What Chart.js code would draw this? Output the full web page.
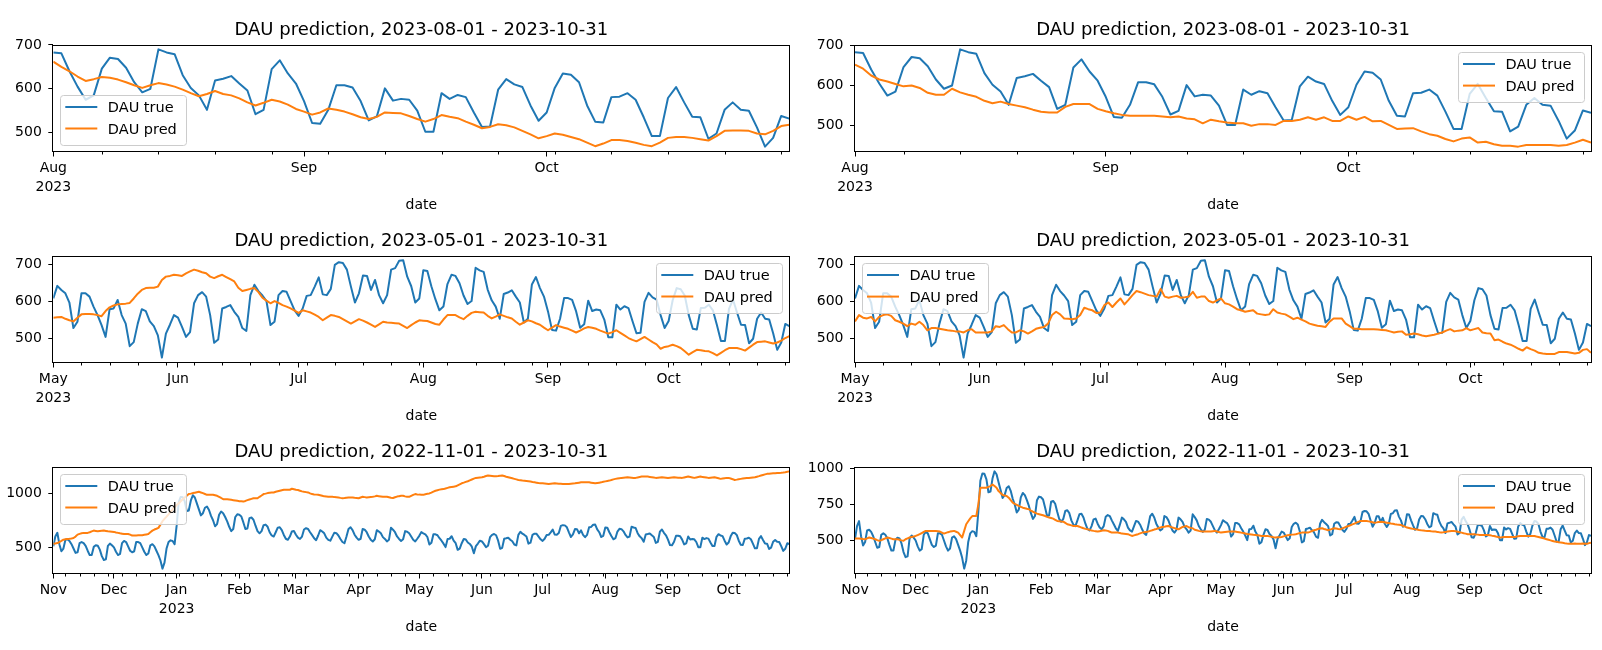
<!DOCTYPE html>
<html>
<head>
<meta charset="utf-8">
<title>DAU prediction</title>
<script src="https://cdn.jsdelivr.net/npm/chart.js@4.4.1/dist/chart.umd.min.js"></script>
<style>
  body { margin: 0; background: #fff; width: 1602px; height: 650px; position: relative; overflow: hidden; }
  canvas { position: absolute; }
</style>
</head>
<body>
<canvas id="p1" width="801" height="220" style="left:0px;top:0px"></canvas>
<canvas id="p2" width="801" height="220" style="left:801px;top:0px"></canvas>
<canvas id="p3" width="801" height="220" style="left:0px;top:211px"></canvas>
<canvas id="p4" width="801" height="220" style="left:801px;top:211px"></canvas>
<canvas id="p5" width="801" height="228" style="left:0px;top:422px"></canvas>
<canvas id="p6" width="801" height="228" style="left:801px;top:422px"></canvas>
<script>
// DAU true, daily values 2022-11-01 .. 2023-04-30
const dauTrueNovApr = [
  510, 600, 635, 530, 465, 490, 570, 575, 560, 530, 490, 450, 455, 540, 550, 540, 515, 470, 430, 430, 505, 520, 515, 480, 420, 385, 390, 515, 535, 520,
  500, 460, 430, 440, 540, 560, 550, 510, 470, 455, 465, 550, 550, 540, 500, 460, 430, 445, 520, 530, 510, 470, 430, 380, 305, 360, 490, 550, 565, 560, 530,
  700, 915, 965, 963, 925, 835, 840, 930, 980, 960, 905, 850, 795, 815, 865, 877, 845, 790, 750, 695, 715, 800, 830, 815, 780, 740, 690, 650, 670, 780, 805,
  800, 785, 730, 670, 675, 770, 775, 755, 700, 650, 630, 650, 705, 710, 690, 640, 610, 600, 640, 682, 686, 660, 615, 580, 570, 600, 647, 652,
  617, 590, 578, 600, 665, 677, 670, 640, 613, 585, 567, 610, 659, 647, 630, 590, 570, 562, 600, 636, 631, 610, 578, 550, 539, 600, 670, 686, 660, 617, 590,
  570, 580, 670, 663, 640, 601, 570, 555, 575, 659, 647, 630, 595, 578, 555, 570, 682, 663, 640, 601, 578, 560, 575, 650, 645, 630, 600, 570, 555, 580
];
// DAU true, 2023-05-01 .. 2023-07-31
const dauTrueMayJul = [
  607, 641, 630, 621, 596, 527, 544, 621, 621, 612, 585, 562, 535, 503, 578, 580, 603, 562, 539, 478, 489, 539, 578, 573, 545, 532, 507, 447, 512, 536, 562,
  555, 530, 503, 516, 594, 616, 624, 612, 562, 487, 496, 580, 584, 589, 571, 557, 527, 519, 616, 644, 627, 615, 600, 535, 544, 616, 627, 625, 600, 575,
  560, 580, 614, 616, 639, 664, 618, 616, 633, 698, 705, 703, 685, 639, 596, 621, 669, 668, 630, 657, 616, 594, 616, 685, 689, 709, 710, 666, 640, 596, 607
];
// DAU true, 2023-08-01 .. 2023-10-31
const dauTrueAugOct = [
  683, 681, 640, 605, 575, 585, 646, 671, 668, 648, 615, 592, 600, 690, 683, 679, 631, 602, 585, 552, 619, 623, 629, 612, 596, 542, 552, 645, 665, 635, 612,
  572, 522, 520, 552, 608, 608, 603, 572, 528, 537, 601, 573, 577, 575, 550, 502, 502, 590, 577, 586, 581, 546, 513, 514, 598, 622, 610, 604, 562, 527,
  546, 602, 635, 632, 615, 562, 525, 523, 581, 582, 590, 575, 535, 492, 492, 579, 604, 569, 536, 535, 486, 498, 552, 569, 552, 550, 512, 468, 488, 538, 532
];

// DAU pred, one array per panel
const predAugOctLeft = [
  662, 650, 640, 628, 618, 622, 627, 625, 621, 615, 608, 602, 608, 613, 610, 605, 598, 590, 583, 588, 595, 588, 585, 578, 569, 562, 568, 575, 571, 564, 554,
  548, 541, 546, 555, 552, 548, 542, 535, 531, 536, 546, 545, 544, 538, 531, 525, 531, 540, 536, 533, 525, 518, 510, 513, 519, 517, 512, 504, 496, 487,
  492, 498, 495, 490, 485, 477, 469, 475, 483, 483, 481, 477, 472, 469, 477, 488, 490, 490, 488, 485, 482, 492, 504, 505, 505, 504, 498, 496, 504, 515, 518
];
const predAugOctRight = [
  652, 642, 625, 615, 610, 604, 598, 600, 594, 582, 577, 577, 592, 583, 577, 572, 562, 556, 560, 554, 550, 546, 540, 535, 533, 533, 547, 554, 554, 554, 542,
  536, 531, 527, 525, 525, 525, 525, 523, 521, 523, 518, 516, 506, 515, 511, 508, 506, 506, 500, 504, 504, 502, 512, 512, 515, 521, 515, 521, 512, 512,
  523, 515, 522, 511, 512, 502, 492, 493, 494, 486, 479, 475, 467, 461, 468, 471, 458, 460, 454, 450, 450, 448, 452, 452, 452, 452, 450, 452, 458, 465, 458
];
const predMayOctLeft = [
  555, 556, 557, 552, 548, 545, 555, 564, 565, 565, 564, 562, 559, 573, 583, 588, 591, 592, 593, 595, 607, 620, 630, 635, 636, 636, 639, 657, 666, 668, 671,
  670, 668, 675, 680, 685, 682, 678, 675, 666, 662, 667, 671, 665, 659, 653, 636, 627, 630, 633, 635, 624, 609, 601, 594, 600, 595, 589, 585, 580, 574,
  568, 575, 572, 569, 563, 557, 548, 555, 562, 560, 557, 551, 545, 539, 545, 551, 547, 542, 536, 530, 537, 544, 542, 541, 540, 539, 533, 527, 535, 542, 548,
  547, 546, 542, 538, 536, 550, 562, 562, 562, 556, 551, 560, 568, 571, 570, 569, 560, 553, 558, 564, 560, 556, 553, 544, 536, 542, 548, 545, 540, 536, 528,
  521, 528, 535, 531, 528, 525, 520, 515, 520, 526, 530, 528, 525, 520, 516, 512, 516, 521, 514, 507, 500, 495, 491, 497, 503, 496, 489, 483, 471, 476,
  478, 482, 478, 473, 464, 455, 462, 468, 467, 465, 464, 459, 453, 460, 467, 473, 473, 473, 470, 466, 474, 482, 489, 490, 491, 488, 485, 488, 493, 500, 505
];
const predMayOctRight = [
  545, 562, 555, 553, 557, 545, 557, 562, 564, 560, 548, 544, 539, 532, 539, 536, 544, 535, 521, 527, 527, 525, 523, 521, 520, 518, 518, 515, 521, 524, 515,
  515, 515, 515, 518, 532, 530, 535, 524, 515, 515, 521, 518, 512, 518, 525, 528, 530, 539, 562, 571, 564, 553, 552, 551, 553, 562, 582, 578, 575, 568,
  569, 589, 596, 584, 596, 607, 591, 603, 616, 627, 624, 620, 616, 614, 612, 633, 612, 609, 612, 614, 609, 610, 612, 625, 609, 612, 612, 600, 596, 602, 607,
  594, 591, 585, 578, 575, 571, 573, 575, 566, 564, 562, 564, 578, 569, 566, 564, 558, 551, 555, 550, 545, 539, 536, 533, 532, 530, 544, 553, 553, 553, 539,
  532, 525, 525, 524, 524, 524, 524, 523, 522, 521, 518, 515, 517, 518, 509, 510, 512, 510, 507, 505, 507, 509, 512, 515, 520, 524, 518, 520, 521, 527,
  521, 524, 527, 515, 513, 512, 494, 496, 490, 485, 482, 477, 471, 466, 475, 470, 466, 460, 458, 457, 457, 457, 462, 462, 462, 460, 458, 460, 468, 470, 460
];
const predYearLeft = [
  534, 537, 540, 550, 560, 571, 575, 578, 580, 583, 587, 600, 618, 625, 630, 634, 634, 634, 640, 648, 655, 652, 649, 651, 653, 655, 652, 649, 647, 645,
  643, 638, 634, 630, 627, 624, 624, 624, 618, 609, 610, 611, 612, 612, 612, 616, 620, 624, 640, 655, 665, 672, 680, 710, 742, 763, 783, 804, 828, 851, 870,
  890, 904, 925, 944, 960, 975, 991, 995, 1000, 1004, 1008, 1012, 1006, 1000, 992, 984, 984, 984, 984, 980, 975, 965, 955, 944, 944, 944, 941, 938, 935, 932, 929,
  926, 924, 922, 928, 935, 941, 947, 953, 953, 953, 966, 978, 991, 995, 1000, 1003, 1005, 1006, 1012, 1017, 1022, 1027, 1031, 1031, 1031, 1031, 1040, 1035,
  1030, 1028, 1022, 1016, 1012, 1009, 1006, 998, 991, 988, 986, 984, 980, 975, 970, 968, 966, 966, 966, 963, 962, 960, 956, 953, 955, 958, 960, 960, 960, 957, 955,
  953, 960, 966, 963, 960, 962, 964, 966, 970, 975, 972, 969, 966, 966, 966, 962, 958, 955, 962, 968, 972, 975, 975, 970, 966, 966, 975, 984, 991, 988,
  986, 985, 984, 990, 994, 997, 1005, 1014, 1022, 1027, 1032, 1035, 1037, 1043, 1048, 1053, 1056, 1059, 1062, 1072, 1081, 1090, 1096, 1103, 1109, 1117, 1125, 1133, 1140, 1142, 1144,
  1146, 1151, 1157, 1162, 1160, 1158, 1156, 1155, 1157, 1160, 1162, 1157, 1151, 1146, 1141, 1136, 1131, 1126, 1121, 1118, 1115, 1113, 1111, 1109, 1106, 1102, 1099, 1096, 1093, 1091,
  1090, 1088, 1086, 1084, 1086, 1088, 1090, 1088, 1086, 1085, 1084, 1084, 1084, 1084, 1086, 1088, 1090, 1093, 1096, 1099, 1099, 1099, 1099, 1099, 1096, 1093, 1090, 1093, 1096, 1099, 1104,
  1108, 1112, 1115, 1120, 1126, 1131, 1134, 1137, 1140, 1142, 1144, 1146, 1144, 1142, 1140, 1140, 1144, 1148, 1152, 1152, 1152, 1152, 1149, 1146, 1143, 1140, 1142, 1144, 1146, 1144, 1142,
  1140, 1142, 1144, 1146, 1144, 1142, 1141, 1140, 1144, 1148, 1152, 1148, 1144, 1140, 1144, 1148, 1152, 1149, 1146, 1143, 1140, 1142, 1144, 1146, 1141, 1136, 1131, 1134, 1137, 1140,
  1140, 1134, 1128, 1121, 1124, 1128, 1131, 1134, 1137, 1139, 1140, 1142, 1144, 1146, 1151, 1156, 1162, 1167, 1172, 1177, 1179, 1181, 1182, 1183, 1185, 1186, 1187, 1189, 1192, 1196, 1200
];
const predYearRight = [
  514, 514, 514, 512, 510, 509, 515, 521, 517, 513, 509, 503, 498, 503, 509, 515, 521, 517, 513, 509, 509, 509, 505, 501, 498, 509, 515, 521, 525, 528,
  532, 538, 544, 552, 560, 567, 567, 567, 567, 567, 566, 564, 562, 555, 548, 553, 558, 562, 565, 567, 561, 555, 538, 521, 567, 613, 634, 654, 670, 670, 670,
  751, 866, 866, 866, 866, 872, 878, 889, 878, 866, 843, 830, 816, 812, 809, 797, 780, 763, 755, 748, 740, 734, 728, 724, 720, 717, 708, 700, 694, 687, 683,
  679, 675, 670, 664, 660, 656, 652, 644, 636, 634, 632, 631, 622, 613, 609, 605, 601, 601, 601, 596, 590, 585, 581, 578, 574, 570, 567, 565,
  562, 565, 568, 571, 569, 567, 561, 555, 555, 555, 555, 552, 548, 547, 546, 544, 538, 532, 536, 540, 544, 550, 555, 558, 560, 562, 567, 571, 576, 580, 585,
  590, 594, 596, 599, 601, 596, 590, 586, 582, 578, 586, 594, 598, 601, 592, 588, 585, 575, 571, 567, 564, 562, 562, 562, 562, 563, 565, 567, 563, 559,
  555, 557, 559, 561, 562, 562, 562, 562, 560, 558, 555, 552, 549, 546, 544, 542, 540, 539, 537, 535, 532, 532, 532, 532, 529, 526, 523, 521, 522, 523, 525,
  529, 533, 537, 539, 541, 542, 544, 548, 552, 555, 555, 555, 555, 560, 566, 571, 575, 580, 583, 585, 580, 576, 571, 576, 581, 585, 583, 580, 578, 584,
  590, 596, 601, 606, 612, 617, 624, 630, 636, 636, 636, 636, 633, 630, 627, 624, 626, 629, 631, 629, 627, 624, 621, 618, 616, 613, 611, 610, 608, 602, 596,
  590, 587, 584, 581, 578, 576, 573, 571, 570, 568, 567, 566, 564, 563, 562, 560, 557, 555, 557, 560, 562, 564, 566, 567, 564, 561, 558, 555, 551, 548, 544,
  544, 544, 544, 542, 541, 539, 539, 539, 539, 539, 537, 534, 532, 528, 525, 521, 522, 524, 525, 525, 525, 525, 525, 527, 530, 532, 532, 532, 532, 532,
  532, 532, 532, 528, 525, 521, 517, 513, 509, 505, 501, 497, 493, 491, 488, 486, 484, 481, 479, 478, 477, 478, 479, 478, 477, 478, 480, 478, 477, 482, 485
];

// x tick labels, one per month start
const monthsAugOct = [['Aug', '2023'], 'Sep', 'Oct'];
const monthsMayOct = [['May', '2023'], 'Jun', 'Jul', 'Aug', 'Sep', 'Oct'];
const monthsYear = ['Nov', 'Dec', ['Jan', '2023'], 'Feb', 'Mar', 'Apr', 'May', 'Jun', 'Jul', 'Aug', 'Sep', 'Oct'];

const endDate = '2023-10-31';
const dauTrue = dauTrueNovApr.concat(dauTrueMayJul, dauTrueAugOct);

Chart.defaults.font.family = "'DejaVu Sans', sans-serif";
Chart.defaults.color = '#000';

// axes frame + weekly minor ticks
const framePlugin = {
  id: 'frame',
  afterDatasetsDraw(chart, args, opts) {
    const { ctx, chartArea: a } = chart;
    const xs = chart.scales.x;
    ctx.save();
    ctx.strokeStyle = '#000';
    ctx.lineWidth = 1;
    ctx.strokeRect(Math.round(a.left) - 0.5, Math.round(a.top) + 0.5,
      Math.round(a.right - a.left) + 1, Math.round(a.bottom - a.top) - 1);
    opts.minor.forEach(d => {
      const px = Math.round(xs.getPixelForValue(d)) + 0.5;
      ctx.beginPath();
      ctx.moveTo(px, a.bottom);
      ctx.lineTo(px, a.bottom + 3);
      ctx.stroke();
    });
    ctx.restore();
  }
};

// matplotlib-like legend box inside the axes
const boxLegend = {
  id: 'boxLegend',
  afterDraw(chart, args, opts) {
    const { ctx, chartArea: a } = chart;
    const w = 126, h = 50, m = 7;
    const x = opts.corner.includes('left') ? a.left + m : a.right - m - w;
    const y = opts.corner.includes('upper') ? a.top + m : a.bottom - m - h;
    ctx.save();
    ctx.beginPath();
    ctx.roundRect(Math.round(x) + 0.5, Math.round(y) + 0.5, w, h, 3);
    ctx.fillStyle = 'rgba(255,255,255,0.8)';
    ctx.fill();
    ctx.strokeStyle = '#cccccc';
    ctx.lineWidth = 1;
    ctx.stroke();
    ctx.font = '14.5px "DejaVu Sans"';
    ctx.textBaseline = 'alphabetic';
    chart.data.datasets.forEach((ds, i) => {
      const cy = y + 12.5 + i * 21.6;
      ctx.strokeStyle = ds.borderColor;
      ctx.lineWidth = 2;
      ctx.beginPath();
      ctx.moveTo(x + 5, cy);
      ctx.lineTo(x + 37, cy);
      ctx.stroke();
      ctx.fillStyle = '#000';
      ctx.fillText(ds.label, x + 47.5, cy + 5.3);
    });
    ctx.restore();
  }
};

const panels = [
  { id: 'p1', start: '2023-08-01', pred: predAugOctLeft, months: monthsAugOct, step: 100, legend: 'lower left', yWidth: 53.3, padRight: 11.7 },
  { id: 'p2', start: '2023-08-01', pred: predAugOctRight, months: monthsAugOct, step: 100, legend: 'upper right', yWidth: 54, padRight: 11 },
  { id: 'p3', start: '2023-05-01', pred: predMayOctLeft, months: monthsMayOct, step: 100, legend: 'upper right', yWidth: 53.3, padRight: 11.7 },
  { id: 'p4', start: '2023-05-01', pred: predMayOctRight, months: monthsMayOct, step: 100, legend: 'upper left', yWidth: 54, padRight: 11 },
  { id: 'p5', start: '2022-11-01', pred: predYearLeft, months: monthsYear, step: 500, legend: 'upper left', yWidth: 53.3, padRight: 11.7 },
  { id: 'p6', start: '2022-11-01', pred: predYearRight, months: monthsYear, step: 250, legend: 'upper right', yWidth: 54, padRight: 11 }
];

function drawPanel(p) {
  const t0 = Date.parse(p.start + 'T00:00:00Z');
  const n = Math.round((Date.parse(endDate + 'T00:00:00Z') - t0) / 864e5) + 1;
  const trueVals = dauTrue.slice(dauTrue.length - n);

  // month starts are labelled, Mondays get a small tick
  const major = [], minor = [];
  for (let i = 0; i < n; i++) {
    const d = new Date(t0 + i * 864e5);
    if (d.getUTCDate() === 1) major.push(i);
    else if (d.getUTCDay() === 1) minor.push(i);
  }

  const all = trueVals.concat(p.pred);
  const lo = Math.min(...all), hi = Math.max(...all);
  const margin = (hi - lo) * 0.05;
  const canvas = document.getElementById(p.id);

  new Chart(canvas, {
    type: 'line',
    data: {
      datasets: [
        { label: 'DAU true', data: trueVals.map((v, i) => ({ x: i, y: v })), borderColor: '#1f77b4', order: 1 },
        { label: 'DAU pred', data: p.pred.map((v, i) => ({ x: i, y: v })), borderColor: '#ff7f0e', order: 0 }
      ]
    },
    options: {
      responsive: false,
      animation: false,
      events: [],
      elements: {
        line: { borderWidth: 2, tension: 0, fill: false, borderJoinStyle: 'round' },
        point: { radius: 0 }
      },
      layout: { padding: { left: 0, top: 0, right: p.padRight, bottom: canvas.height - 214.1 } },
      plugins: {
        legend: { display: false },
        tooltip: { enabled: false },
        title: {
          display: true,
          fullSize: false,
          text: 'DAU prediction, ' + p.start + ' - ' + endDate,
          font: { size: 18, weight: 'normal', lineHeight: 1.2 },
          padding: { top: 19.5, bottom: 3.4 }
        },
        frame: { minor: minor },
        boxLegend: { corner: p.legend }
      },
      scales: {
        x: {
          type: 'linear',
          min: 0,
          max: n - 1,
          afterBuildTicks: s => { s.ticks = major.map(v => ({ value: v })); },
          afterFit: s => { s.height = 62.6; },
          ticks: {
            autoSkip: false,
            maxRotation: 0,
            padding: 2.7,
            font: { size: 14, lineHeight: 1.33 },
            callback: v => p.months[major.indexOf(v)]
          },
          grid: { drawOnChartArea: false, tickLength: 5, color: '#000' },
          border: { display: false },
          title: { display: true, text: 'date', font: { size: 14, lineHeight: 1.2 }, padding: 0 }
        },
        y: {
          min: lo - margin,
          max: hi + margin,
          afterBuildTicks: s => {
            const ticks = [];
            for (let v = Math.ceil(s.min / p.step) * p.step; v <= s.max; v += p.step) ticks.push({ value: v });
            s.ticks = ticks;
          },
          afterFit: s => { s.width = p.yWidth; },
          ticks: { padding: 6.5, font: { size: 14 }, callback: v => String(v) },
          grid: { drawOnChartArea: false, tickLength: 5, color: '#000' },
          border: { display: false }
        }
      }
    },
    plugins: [framePlugin, boxLegend]
  });
}

panels.forEach(drawPanel);
</script>
</body>
</html>
